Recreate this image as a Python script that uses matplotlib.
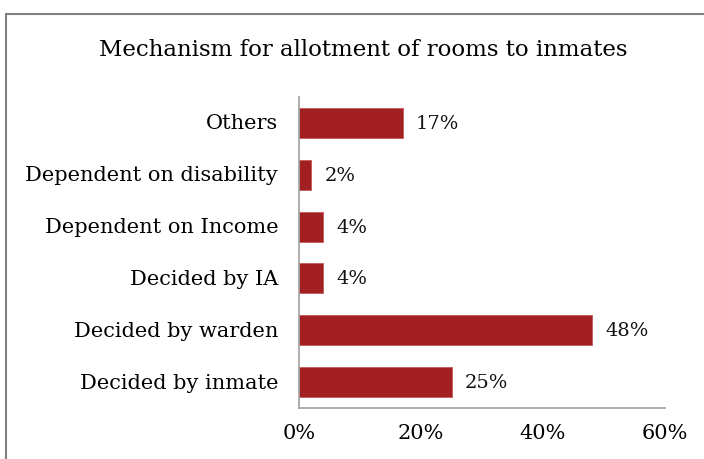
import matplotlib.pyplot as plt
from matplotlib.patches import Rectangle

categories = ['Decided by inmate', 'Decided by warden', 'Decided by IA',
              'Dependent on Income', 'Dependent on disability', 'Others']
shares = [25, 48, 4, 4, 2, 17]
xticks = [0, 20, 40, 60]

plt.rcParams['font.family'] = ['DejaVu Serif']

fig = plt.figure(figsize=(7.04, 4.6), dpi=100)
W, H = 704, 460

# chart frame (top and left edges visible)
fig.patches.append(Rectangle((6 / W, -0.1), 1.2, 1 - 15 / H + 0.1,
                             transform=fig.transFigure, fill=False,
                             edgecolor='#7f7f7f', linewidth=1.5))

ax = fig.add_axes([299 / W, 1 - 409 / H, (665 - 299) / W, (409 - 98) / H])
ax.barh(range(len(categories)), shares, height=0.58, color='#a21f22',
        edgecolor='#c25a5c', linewidth=0.6)
for i, v in enumerate(shares):
    ax.text(v + 2.2, i, f'{v}%', va='center', ha='left', fontsize=14, color='#111')

ax.set_xlim(0, 60)
ax.set_ylim(-0.5, len(categories) - 0.5)
ax.set_xticks(xticks)
ax.set_xticklabels([f'{t}%' for t in xticks], fontsize=15)
ax.set_yticks(range(len(categories)))
ax.set_yticklabels(categories, fontsize=15, va='center')
ax.tick_params(length=0, pad=11, axis='x')
ax.tick_params(length=0, pad=15, axis='y')
for s in ['top', 'right']:
    ax.spines[s].set_visible(False)
for s in ['left', 'bottom']:
    ax.spines[s].set_color('#a0a0a0')
    ax.spines[s].set_linewidth(1.2)

fig.text(363 / W, 1 - 50 / H, 'Mechanism for allotment of rooms to inmates',
         ha='center', va='center', fontsize=16.5)

fig.savefig('out.png', dpi=100)
